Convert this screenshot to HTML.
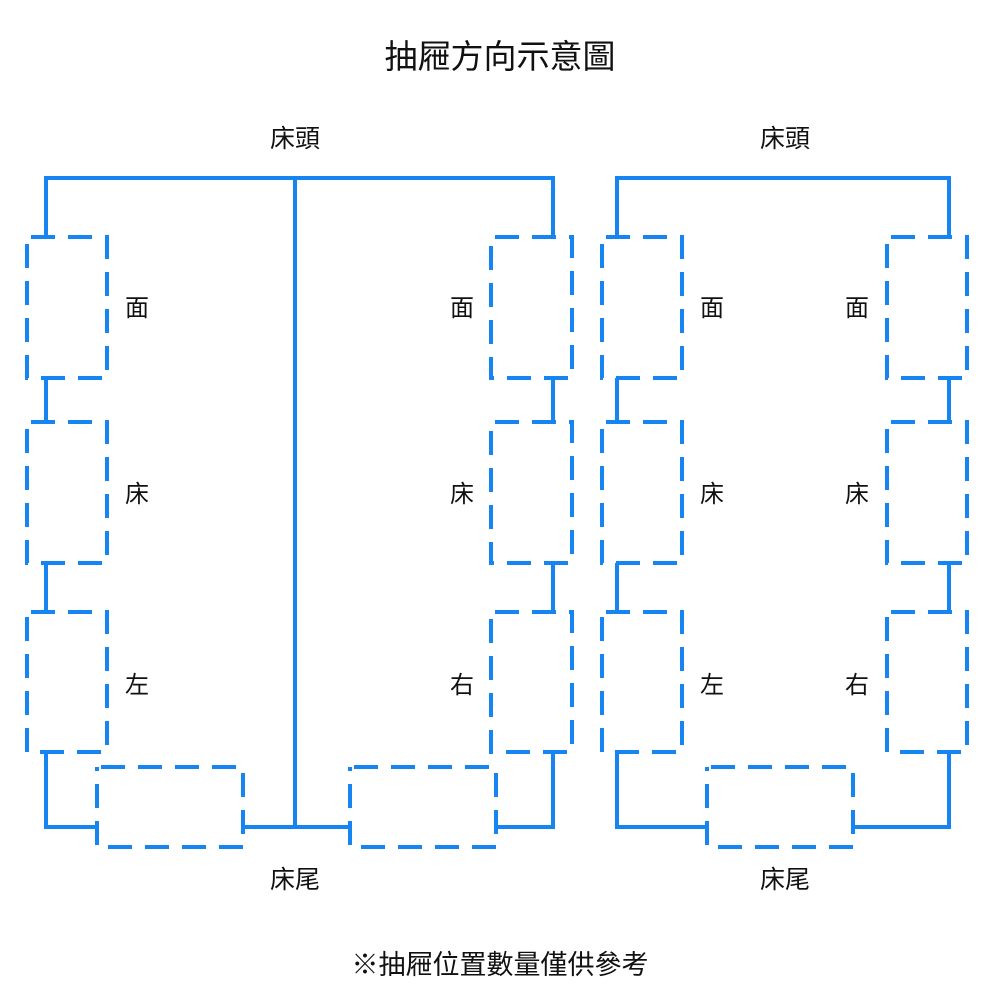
<!DOCTYPE html>
<html><head><meta charset="utf-8"><style>
html,body{margin:0;padding:0;background:#fff;}
svg{display:block;}
text{font-family:"Liberation Sans","Noto Sans CJK TC",sans-serif;fill:#111;}
</style></head><body>
<svg width="1000" height="1000" viewBox="0 0 1000 1000">
<text x="500" y="68" font-size="33" text-anchor="middle">抽屜方向示意圖</text>
<text x="295" y="147" font-size="25" text-anchor="middle">床頭</text>
<text x="785" y="147" font-size="25" text-anchor="middle">床頭</text>
<text x="295" y="888" font-size="25" text-anchor="middle">床尾</text>
<text x="785" y="888" font-size="25" text-anchor="middle">床尾</text>
<text x="500" y="974" font-size="27" text-anchor="middle">※抽屜位置數量僅供參考</text>
<g font-size="24" text-anchor="middle">
<text x="137" y="316">面</text><text x="137" y="502">床</text><text x="137" y="693">左</text>
<text x="462" y="316">面</text><text x="462" y="502">床</text><text x="462" y="693">右</text>
<text x="712" y="316">面</text><text x="712" y="502">床</text><text x="712" y="693">左</text>
<text x="857" y="316">面</text><text x="857" y="502">床</text><text x="857" y="693">右</text>
</g>
<g stroke="#1685f2" stroke-width="4" fill="none">
<polyline points="46,237 46,178 553,178 553,237"/>
<line x1="295" y1="178" x2="295" y2="827"/>
<line x1="46" y1="378" x2="46" y2="422"/><line x1="46" y1="563" x2="46" y2="612"/>
<polyline points="46,752 46,827 97,827"/>
<line x1="553" y1="378" x2="553" y2="422"/><line x1="553" y1="563" x2="553" y2="612"/>
<polyline points="553,752 553,827 496,827"/>
<line x1="243" y1="827" x2="350" y2="827"/>
<polyline points="617,237 617,178 949,178 949,237"/>
<line x1="617" y1="378" x2="617" y2="422"/><line x1="617" y1="563" x2="617" y2="612"/>
<polyline points="617,752 617,827 707,827"/>
<line x1="949" y1="378" x2="949" y2="422"/><line x1="949" y1="563" x2="949" y2="612"/>
<polyline points="949,752 949,827 853,827"/>
</g>
<g stroke="#1685f2" stroke-width="4" fill="none" stroke-dasharray="24 13" stroke-dashoffset="-4">
<rect x="27" y="237" width="80" height="141"/>
<rect x="27" y="422" width="80" height="141"/>
<rect x="27" y="612" width="80" height="140"/>
<rect x="491" y="237" width="81" height="141"/>
<rect x="491" y="422" width="81" height="141"/>
<rect x="491" y="612" width="81" height="140"/>
<rect x="602" y="237" width="80" height="141"/>
<rect x="602" y="422" width="80" height="141"/>
<rect x="602" y="612" width="80" height="140"/>
<rect x="887" y="237" width="80" height="141"/>
<rect x="887" y="422" width="80" height="141"/>
<rect x="887" y="612" width="80" height="140"/>
<rect x="97" y="767" width="146" height="80"/>
<rect x="350" y="767" width="146" height="80"/>
<rect x="707" y="767" width="146" height="80"/>
</g>
</svg>
</body></html>
